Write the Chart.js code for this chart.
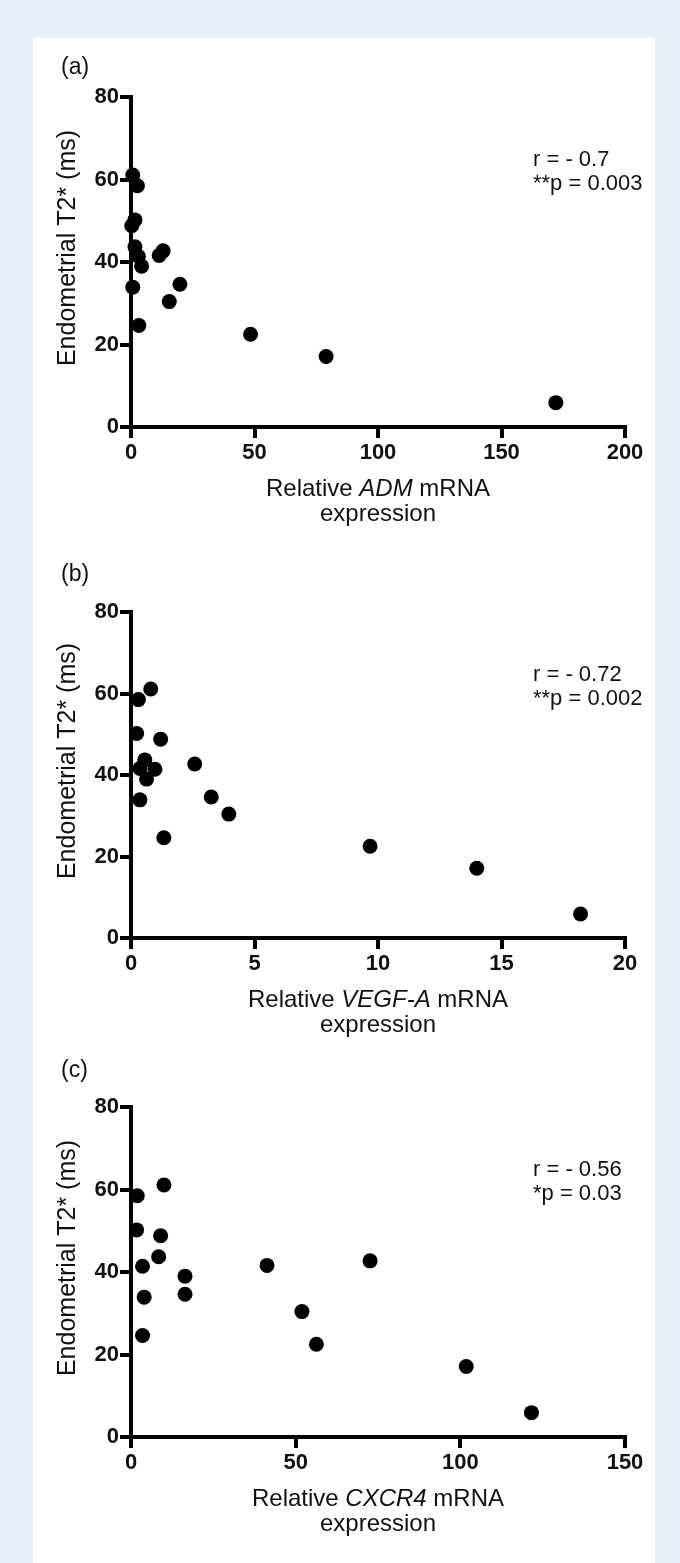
<!DOCTYPE html>
<html>
<head>
<meta charset="utf-8">
<script src="https://cdn.jsdelivr.net/npm/chart.js@4.4.0/dist/chart.umd.min.js"></script>
<style>
    html, body { margin: 0; padding: 0; background: #e7eff9; }
    body { width: 680px; height: 1563px; position: relative; overflow: hidden; }
    #sheet { position: absolute; left: 33px; top: 38px; width: 622px; height: 1525px; background: #fff; }
    canvas { position: absolute; left: 0; }
</style>
</head>
<body>
<div id="sheet"></div>
<canvas id="chartA" width="680" height="540" style="top:0px"></canvas>
<canvas id="chartB" width="680" height="530" style="top:520px"></canvas>
<canvas id="chartC" width="680" height="533" style="top:1030px"></canvas>
<script>
// Endometrial T2* (ms), one value per patient, same order in every panel
const t2Values = [61.1, 58.5, 50.2, 48.8, 43.7, 42.7, 41.6, 41.4, 39.0, 34.6, 33.9, 30.4, 24.6, 22.5, 17.1, 5.9];

// relative mRNA expression, per gene
const admValues   = [0.7, 2.6, 1.6, 0.3, 1.6, 13.0, 11.4, 3.0, 4.3, 19.8, 0.7, 15.5, 3.2, 48.4, 79, 172];
const vegfaValues = [0.8, 0.3, 0.23, 1.2, 0.56, 2.58, 0.36, 0.97, 0.63, 3.25, 0.36, 3.96, 1.33, 9.68, 14.0, 18.2];
const cxcr4Values = [10, 1.9, 1.7, 9, 8.4, 72.6, 41.3, 3.5, 16.4, 16.4, 4, 51.9, 3.5, 56.3, 101.8, 121.6];

const yTicks = [0, 20, 40, 60, 80];
const admTicks   = [0, 50, 100, 150, 200];
const vegfaTicks = [0, 5, 10, 15, 20];
const cxcr4Ticks = [0, 50, 100, 150];

const panelLetters = ['(a)', '(b)', '(c)'];
const geneNames = ['ADM', 'VEGF-A', 'CXCR4'];
const statsText = [
    ['r = - 0.7', '**p = 0.003'],
    ['r = - 0.72', '**p = 0.002'],
    ['r = - 0.56', '*p = 0.03']
];

const FONT = '"Liberation Sans", Arial, Helvetica, sans-serif';
const INK = '#111';

// panel letter, axis titles (gene name in italics) and the r / p text
const decor = {
    id: 'decor',
    afterDraw(chart, args, opts) {
        const ctx = chart.ctx;
        const a = chart.chartArea;
        ctx.save();
        ctx.fillStyle = INK;
        ctx.textBaseline = 'middle';

        ctx.font = `23px ${FONT}`;
        ctx.textAlign = 'left';
        ctx.fillText(opts.letter, 61, a.top - opts.letterGap);

        // y title
        ctx.save();
        ctx.translate(68, (a.top + a.bottom) / 2 - 14);
        ctx.rotate(-Math.PI / 2);
        ctx.textAlign = 'center';
        ctx.font = `25px ${FONT}`;
        ctx.fillText('Endometrial T2* (ms)', 0, 0);
        ctx.restore();

        // x title, first line has mixed styles
        const cx = (a.left + a.right) / 2;
        const y1 = a.bottom + 62;
        const parts = [['Relative ', false], [opts.gene, true], [' mRNA', false]];
        let total = 0;
        parts.forEach(p => {
            ctx.font = `${p[1] ? 'italic ' : ''}24px ${FONT}`;
            total += ctx.measureText(p[0]).width;
        });
        let x = cx - total / 2;
        ctx.textAlign = 'left';
        parts.forEach(p => {
            ctx.font = `${p[1] ? 'italic ' : ''}24px ${FONT}`;
            ctx.fillText(p[0], x, y1);
            x += ctx.measureText(p[0]).width;
        });
        ctx.font = `24px ${FONT}`;
        ctx.textAlign = 'center';
        ctx.fillText('expression', cx, y1 + 25);

        // correlation text
        ctx.font = `22px ${FONT}`;
        ctx.textAlign = 'left';
        ctx.fillText(opts.stats[0], 533, a.top + 63);
        ctx.fillText(opts.stats[1], 533, a.top + 87);
        ctx.restore();
    }
};

function makePanel(canvasId, xValues, xTicks, idx, topPad, xAxisHeight, letterGap) {
    const points = xValues.map((v, i) => ({ x: v, y: t2Values[i] }));
    const tickFont = { family: FONT, size: 22, weight: 'bold' };
    const axisStyle = {
        border: { color: '#000', width: 4 },
        grid: { drawOnChartArea: false, color: '#000', lineWidth: 4, tickLength: 11 }
    };

    new Chart(document.getElementById(canvasId), {
        type: 'scatter',
        data: {
            datasets: [{
                data: points,
                backgroundColor: '#000',
                borderWidth: 0,
                pointRadius: 7.5,
                clip: false
            }]
        },
        options: {
            responsive: false,
            animation: false,
            events: [],
            layout: { padding: { top: topPad, right: 55, left: 0, bottom: 0 } },
            plugins: {
                legend: { display: false },
                tooltip: { enabled: false },
                decor: { letter: panelLetters[idx], gene: geneNames[idx], stats: statsText[idx], letterGap: letterGap }
            },
            scales: {
                x: {
                    type: 'linear',
                    min: xTicks[0],
                    max: xTicks[xTicks.length - 1],
                    afterBuildTicks: s => { s.ticks = xTicks.map(v => ({ value: v })); },
                    ticks: { font: tickFont, color: INK, padding: 2, maxRotation: 0 },
                    afterFit: s => { s.height = xAxisHeight; },
                    ...axisStyle
                },
                y: {
                    type: 'linear',
                    min: yTicks[0],
                    max: yTicks[yTicks.length - 1],
                    afterBuildTicks: s => { s.ticks = yTicks.map(v => ({ value: v })); },
                    ticks: { font: tickFont, color: INK, padding: 1 },
                    afterFit: s => { s.width = 131; },
                    ...axisStyle
                }
            }
        },
        plugins: [decor]
    });
}

makePanel('chartA', admValues, admTicks, 0, 97, 113, 29);
makePanel('chartB', vegfaValues, vegfaTicks, 1, 92, 112, 37);
makePanel('chartC', cxcr4Values, cxcr4Ticks, 2, 77, 126, 36);
</script>
</body>
</html>
